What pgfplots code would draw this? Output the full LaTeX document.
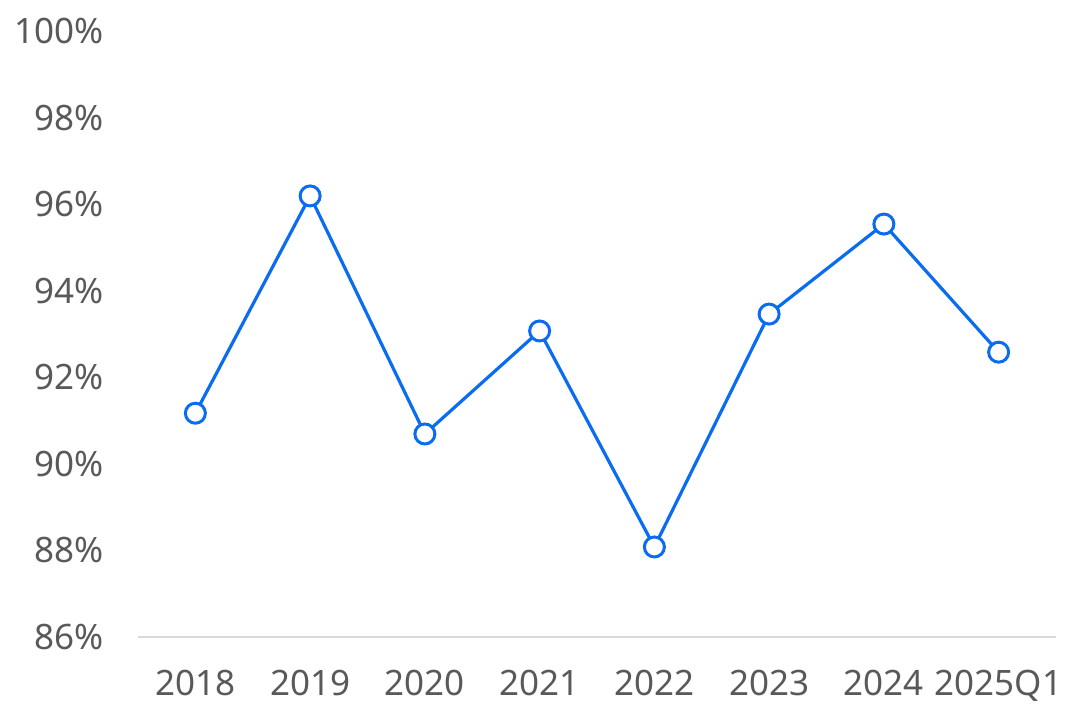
\documentclass[border=0pt]{standalone}
\usepackage{pgfplots}
\pgfplotsset{compat=1.18}
\usepackage{fontspec}
\setmainfont{Noto Sans}
\definecolor{linecol}{RGB}{10,108,240}
\definecolor{txtcol}{RGB}{89,89,89}
\definecolor{basecol}{RGB}{217,217,217}
\begin{document}
\begin{tikzpicture}
\begin{axis}[
  name=ax,
  scale only axis,
  width=918pt, height=606pt,
  xmin=-0.5, xmax=7.5,
  ymin=86, ymax=100,
  xtick={0,...,7},
  xticklabels={2018,2019,2020,2021,2022,2023,2024,2025Q1},
  ytick={86,88,...,100},
  yticklabel={\pgfmathprintnumber{\tick}\%},
  /pgf/number format/assume math mode=true,
  axis line style={draw=none},
  major tick length=0pt,
  ticklabel style={font=\fontsize{35}{40}\selectfont, text=txtcol},
  yticklabel style={anchor=east, xshift=-31pt},
  xticklabel style={anchor=north, yshift=-30pt},
  clip=false,
]
\draw[basecol, line width=1.5pt] (rel axis cs:0,0) -- (rel axis cs:1,0);
\addplot[linecol, line width=3.2pt, mark=*, mark size=10pt,
  mark options={fill=white, draw=linecol, line width=3pt}]
  coordinates {(0,91.17) (1,96.19) (2,90.69) (3,93.07) (4,88.08) (5,93.46) (6,95.54) (7,92.58)};
\end{axis}
\useasboundingbox ([xshift=-138pt,yshift=-83pt]ax.south west) rectangle ([xshift=24pt,yshift=31pt]ax.north east);
\end{tikzpicture}
\end{document}
